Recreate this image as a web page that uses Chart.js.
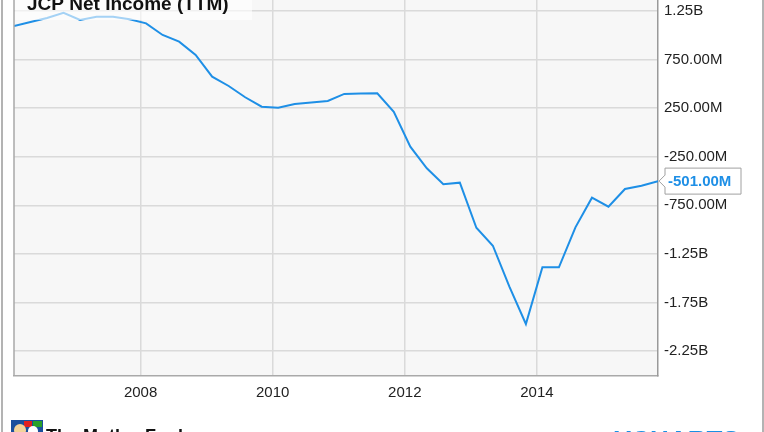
<!DOCTYPE html>
<html>
<head>
<meta charset="utf-8">
<script src="https://cdn.jsdelivr.net/npm/chart.js@4/dist/chart.umd.min.js"></script>
<style>
  html, body { margin: 0; padding: 0; background: #ffffff; }
  #wrap { position: relative; width: 764px; height: 432px; overflow: hidden; }
  canvas { display: block; }
</style>
</head>
<body>
<div id="wrap"><canvas id="c" width="764" height="432"></canvas></div>
<script>
// ---- Data ----
const chartTitle = 'JCP Net Income (TTM)';
const quarterEnds = [
  '2006-01','2006-04','2006-07','2006-10',
  '2007-01','2007-04','2007-07','2007-10',
  '2008-01','2008-04','2008-07','2008-10',
  '2009-01','2009-04','2009-07','2009-10',
  '2010-01','2010-04','2010-07','2010-10',
  '2011-01','2011-04','2011-07','2011-10',
  '2012-01','2012-04','2012-07','2012-10',
  '2013-01','2013-04','2013-07','2013-10',
  '2014-01','2014-04','2014-07','2014-10',
  '2015-01','2015-04','2015-07','2015-10'
];
// Net income, trailing twelve months, in millions USD
const netIncomeM = [
  1096, 1137, 1178, 1232,
  1157, 1191, 1191, 1165,
  1123, 1003, 934, 797,
  574, 478, 362, 265,
  255, 293, 308, 324,
  396, 401, 403, 213,
  -147, -369, -534, -517,
  -981, -1166, -1588, -1972,
  -1388, -1388, -977, -672,
  -765, -582, -548, -501
];
const yearTicks = [2008, 2010, 2012, 2014];
const valueTicks = [1250, 750, 250, -250, -750, -1250, -1750, -2250];
const valueTickLabels = ['1.25B', '750.00M', '250.00M', '-250.00M', '-750.00M', '-1.25B', '-1.75B', '-2.25B'];
const lastValueLabel = '-501.00M';

// ---- Build points ----
function toYear(s) {
  const [y, m] = s.split('-').map(Number);
  return y + m / 12;
}
const points = quarterEnds.map((q, i) => ({ x: toYear(q), y: netIncomeM[i] }));

const FONT = "'Liberation Sans', Arial, sans-serif";
const BLUE = '#1e8fe6';

const bgPlugin = {
  id: 'bg',
  beforeDraw(chart) {
    const { ctx, chartArea: a } = chart;
    ctx.save();
    ctx.fillStyle = '#ffffff';
    ctx.fillRect(0, 0, chart.width, chart.height);
    ctx.fillStyle = '#f7f7f7';
    ctx.fillRect(a.left, a.top, a.right - a.left, a.bottom - a.top);
    ctx.restore();
  }
};

const overlayPlugin = {
  id: 'overlay',
  afterDraw(chart) {
    const { ctx, chartArea: a } = chart;
    const xs = chart.scales.x, ys = chart.scales.y;
    ctx.save();
    // plot left border
    ctx.strokeStyle = '#a9a9a9';
    ctx.lineWidth = 1.5;
    ctx.beginPath();
    ctx.moveTo(a.left, a.top);
    ctx.lineTo(a.left, a.bottom);
    ctx.stroke();
    // outer frame lines
    ctx.strokeStyle = '#9a9a9a';
    ctx.lineWidth = 1.5;
    ctx.beginPath();
    ctx.moveTo(2, 0); ctx.lineTo(2, chart.height);
    ctx.moveTo(763, 0); ctx.lineTo(763, chart.height);
    ctx.stroke();

    // title box
    ctx.fillStyle = 'rgba(255,255,255,0.6)';
    ctx.fillRect(a.left + 1, 0, 237, 20);
    ctx.fillStyle = '#111111';
    ctx.font = 'bold 19px ' + FONT;
    ctx.textBaseline = 'alphabetic';
    ctx.textAlign = 'left';
    ctx.fillText(chartTitle, 27, 10);

    // last value label
    const last = points[points.length - 1];
    const px = xs.getPixelForValue(last.x);
    const py = ys.getPixelForValue(last.y);
    const bx = px + 7, by = py - 13, bw = 76, bh = 26;
    ctx.fillStyle = '#ffffff';
    ctx.strokeStyle = '#a0a0a0';
    ctx.lineWidth = 1;
    ctx.beginPath();
    ctx.moveTo(px + 1, py);
    ctx.lineTo(bx, py - 6);
    ctx.lineTo(bx, by);
    ctx.lineTo(bx + bw, by);
    ctx.lineTo(bx + bw, by + bh);
    ctx.lineTo(bx, by + bh);
    ctx.lineTo(bx, py + 6);
    ctx.closePath();
    ctx.fill();
    ctx.stroke();
    ctx.fillStyle = BLUE;
    ctx.font = 'bold 15px ' + FONT;
    ctx.textBaseline = 'middle';
    ctx.fillText(lastValueLabel, bx + 3, py + 1);

    // Motley Fool logo (cropped at bottom)
    ctx.fillStyle = '#1a4f9c';
    ctx.fillRect(11, 420, 32, 14);
    ctx.fillStyle = '#e02020';
    ctx.fillRect(24, 421, 8, 6);
    ctx.fillStyle = '#2aa02a';
    ctx.fillRect(33, 421, 9, 6);
    ctx.fillStyle = '#f2d39a';
    ctx.beginPath();
    ctx.arc(20, 430, 6, 0, Math.PI * 2);
    ctx.fill();
    ctx.fillStyle = '#ffffff';
    ctx.beginPath();
    ctx.arc(33, 431, 5, 0, Math.PI * 2);
    ctx.fill();
    ctx.fillStyle = '#111111';
    ctx.font = 'bold 18px ' + FONT;
    ctx.textBaseline = 'alphabetic';
    ctx.fillText('The Motley Fool', 46, 442);

    // YCHARTS (cropped at bottom)
    ctx.fillStyle = '#1a8fe3';
    ctx.font = 'bold 26px ' + FONT;
    ctx.fillText('YCHARTS', 614, 449);
    ctx.restore();
  }
};

function zeroPad(scale) {
  scale.paddingTop = 0;
  scale.paddingBottom = 0;
  scale.paddingLeft = 0;
  scale.paddingRight = 0;
}

new Chart(document.getElementById('c'), {
  type: 'line',
  data: {
    datasets: [{
      data: points,
      borderColor: BLUE,
      borderWidth: 2,
      pointRadius: 0,
      tension: 0,
      fill: false
    }]
  },
  options: {
    responsive: false,
    animation: false,
    devicePixelRatio: 1,
    layout: { padding: { left: 14, top: 0, right: 0, bottom: 0 } },
    plugins: { legend: { display: false }, tooltip: { enabled: false }, title: { display: false } },
    scales: {
      x: {
        type: 'linear',
        min: toYear(quarterEnds[0]),
        max: toYear(quarterEnds[quarterEnds.length - 1]),
        afterBuildTicks(scale) { scale.ticks = yearTicks.map(v => ({ value: v })); },
        afterFit(scale) { scale.height = 56; zeroPad(scale); },
        grid: { color: '#dadada', lineWidth: 1.5, drawTicks: false },
        border: { display: true, color: '#a9a9a9', width: 1.5 },
        ticks: {
          padding: 8,
          color: '#222222',
          font: { family: FONT, size: 15 },
          maxRotation: 0,
          callback: v => String(v)
        }
      },
      y: {
        position: 'right',
        min: -2507,
        max: 1363,
        afterBuildTicks(scale) { scale.ticks = valueTicks.map(v => ({ value: v })); },
        afterFit(scale) { scale.width = 106; zeroPad(scale); },
        grid: { color: '#dadada', lineWidth: 1.5, drawTicks: false },
        border: { display: true, color: '#9a9a9a', width: 1.5 },
        ticks: {
          padding: 6,
          color: '#222222',
          font: { family: FONT, size: 15 },
          callback: v => valueTickLabels[valueTicks.indexOf(v)]
        }
      }
    }
  },
  plugins: [bgPlugin, overlayPlugin]
});
</script>
</body>
</html>
